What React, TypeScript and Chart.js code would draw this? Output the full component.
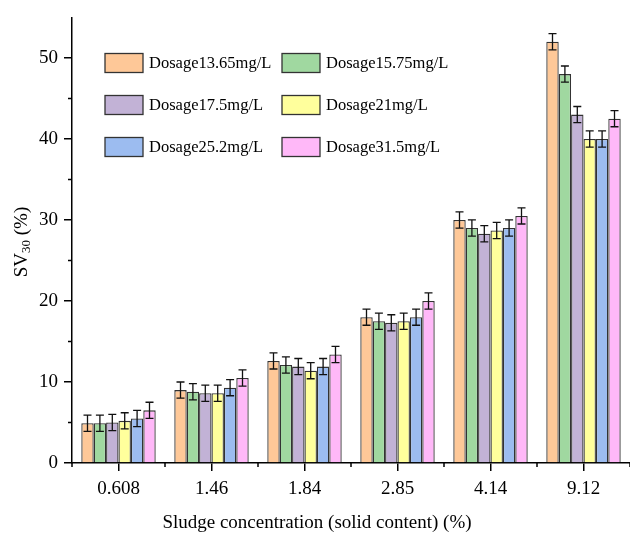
import { useEffect, useRef } from 'react';
import { Chart, registerables } from 'chart.js';

Chart.register(...registerables);

const categories = ['0.608', '1.46', '1.84', '2.85', '4.14', '9.12'];
const seriesLabels = [
  'Dosage13.65mg/L',
  'Dosage15.75mg/L',
  'Dosage17.5mg/L',
  'Dosage21mg/L',
  'Dosage25.2mg/L',
  'Dosage31.5mg/L',
];
const dosage1365 = [4.9, 9.0, 12.6, 18.0, 30.0, 52.0];
const dosage1575 = [4.9, 8.8, 12.1, 17.5, 29.0, 48.0];
const dosage175 = [5.0, 8.6, 11.9, 17.3, 28.3, 43.0];
const dosage21 = [5.2, 8.6, 11.4, 17.5, 28.7, 40.0];
const dosage252 = [5.5, 9.3, 11.9, 18.0, 29.0, 40.0];
const dosage315 = [6.5, 10.5, 13.4, 20.0, 30.5, 42.5];
const errors1365 = [1, 1, 1, 1, 1, 1];
const errors1575 = [1, 1, 1, 1, 1, 1];
const errors175 = [1, 1, 1, 1, 1, 1];
const errors21 = [1, 1, 1, 1, 1, 1];
const errors252 = [1, 1, 1, 1, 1, 1];
const errors315 = [1, 1, 1, 1, 1, 1];
const yMinorTicks = [5, 15, 25, 35, 45];

const seriesValues = [dosage1365, dosage1575, dosage175, dosage21, dosage252, dosage315];
const seriesErrors = [errors1365, errors1575, errors175, errors21, errors252, errors315];
const colors = [
  'rgb(254,200,152)',
  'rgb(160,216,160)',
  'rgb(194,178,214)',
  'rgb(255,255,156)',
  'rgb(156,188,240)',
  'rgb(255,184,248)',
];

const FONT = "'Liberation Serif', 'Times New Roman', serif";

const decorPlugin = {
  id: 'decor',
  afterDatasetsDraw(chart: any) {
    const ctx = chart.ctx as CanvasRenderingContext2D;
    const ys = chart.scales.y;
    ctx.save();
    ctx.strokeStyle = '#111';
    ctx.lineWidth = 1.3;
    chart.data.datasets.forEach((ds: any, di: number) => {
      const meta = chart.getDatasetMeta(di);
      meta.data.forEach((el: any, i: number) => {
        const v = ds.data[i];
        const e = ds.errors[i];
        const top = ys.getPixelForValue(v + e);
        const bot = ys.getPixelForValue(v - e);
        const cap = 4;
        ctx.beginPath();
        ctx.moveTo(el.x, top);
        ctx.lineTo(el.x, bot);
        ctx.moveTo(el.x - cap, top);
        ctx.lineTo(el.x + cap, top);
        ctx.moveTo(el.x - cap, bot);
        ctx.lineTo(el.x + cap, bot);
        ctx.stroke();
      });
    });
    ctx.restore();
  },
  afterDraw(chart: any) {
    const ctx = chart.ctx as CanvasRenderingContext2D;
    const xs = chart.scales.x;
    const ys = chart.scales.y;
    const area = chart.chartArea;
    ctx.save();
    // minor ticks
    ctx.strokeStyle = '#000';
    ctx.lineWidth = 1.5;
    const half = (xs.getPixelForValue(1) - xs.getPixelForValue(0)) / 2;
    ctx.beginPath();
    for (let i = 0; i <= categories.length; i++) {
      const px = xs.getPixelForValue(i) - half;
      if (px > area.right + 1) continue;
      ctx.moveTo(px, area.bottom);
      ctx.lineTo(px, area.bottom + 4);
    }
    yMinorTicks.forEach((v) => {
      const py = ys.getPixelForValue(v);
      ctx.moveTo(area.left, py);
      ctx.lineTo(area.left - 4, py);
    });
    ctx.stroke();

    // legend
    const rowsY = [63, 105, 147];
    const colsX = [105, 282];
    ctx.font = `16.5px ${FONT}`;
    ctx.textBaseline = 'middle';
    ctx.textAlign = 'left';
    seriesLabels.forEach((lab, i) => {
      const col = i % 2;
      const row = Math.floor(i / 2);
      const bx = colsX[col];
      const cy = rowsY[row];
      ctx.fillStyle = colors[i];
      ctx.fillRect(bx, cy - 9.5, 38, 19);
      ctx.strokeStyle = '#333';
      ctx.lineWidth = 1.3;
      ctx.strokeRect(bx, cy - 9.5, 38, 19);
      ctx.fillStyle = '#000';
      ctx.fillText(lab, bx + 44, cy + 1);
    });

    // x title
    ctx.font = `19px ${FONT}`;
    ctx.textBaseline = 'alphabetic';
    ctx.textAlign = 'center';
    ctx.fillText('Sludge concentration (solid content) (%)', 317, 528);

    // y title with subscript
    ctx.translate(22, 242);
    ctx.rotate(-Math.PI / 2);
    const big = `19px ${FONT}`;
    const small = `13px ${FONT}`;
    ctx.textAlign = 'left';
    ctx.textBaseline = 'middle';
    ctx.font = big;
    const w1 = ctx.measureText('SV').width;
    const w3 = ctx.measureText(' (%)').width;
    ctx.font = small;
    const w2 = ctx.measureText('30').width;
    const total = w1 + w2 + w3;
    let cx = -total / 2;
    ctx.font = big;
    ctx.fillText('SV', cx, 0);
    cx += w1;
    ctx.font = small;
    ctx.fillText('30', cx, 5);
    cx += w2;
    ctx.font = big;
    ctx.fillText(' (%)', cx, 0);
    ctx.restore();
  },
};

export default function App() {
  const ref = useRef<HTMLCanvasElement | null>(null);
  useEffect(() => {
    document.body.style.margin = '0';
    if (!ref.current) return;
    const chart = new Chart(ref.current, {
      type: 'bar',
      data: {
        labels: categories,
        datasets: seriesValues.map((vals, i) => ({
          label: seriesLabels[i],
          data: vals,
          errors: seriesErrors[i],
          backgroundColor: colors[i],
          borderColor: '#333',
          borderWidth: 1.3,
          categoryPercentage: 0.8,
          barPercentage: 1.0,
        })) as any,
      },
      options: {
        animation: false,
        responsive: false,
        devicePixelRatio: 1,
        layout: { padding: { top: 13, right: 0, left: 0, bottom: 0 } },
        plugins: {
          legend: { display: false },
          tooltip: { enabled: false },
        },
        scales: {
          x: {
            type: 'category',
            offset: true,
            grid: {
              offset: false,
              drawOnChartArea: false,
              drawTicks: true,
              tickLength: 8,
              color: '#000',
              lineWidth: 1.5,
            },
            border: { display: true, color: '#000', width: 1.5 },
            ticks: {
              color: '#000',
              font: { family: FONT, size: 19 },
              padding: 7,
              maxRotation: 0,
            },
            afterFit(scale: any) {
              scale.height = 72;
            },
          },
          y: {
            min: 0,
            max: 55,
            grid: {
              drawOnChartArea: false,
              drawTicks: true,
              tickLength: 8,
              color: '#000',
              lineWidth: 1.5,
            },
            border: { display: true, color: '#000', width: 1.5 },
            ticks: {
              stepSize: 10,
              includeBounds: false,
              color: '#000',
              font: { family: FONT, size: 19 },
              padding: 6,
            },
            afterFit(scale: any) {
              scale.width = 72;
            },
          },
        },
      },
      plugins: [decorPlugin],
    });
    return () => chart.destroy();
  }, []);
  return (
    <div style={{ width: 630, height: 535, position: 'relative' }}>
      <canvas ref={ref} width={630} height={535} style={{ width: 630, height: 535, display: 'block' }} />
    </div>
  );
}
